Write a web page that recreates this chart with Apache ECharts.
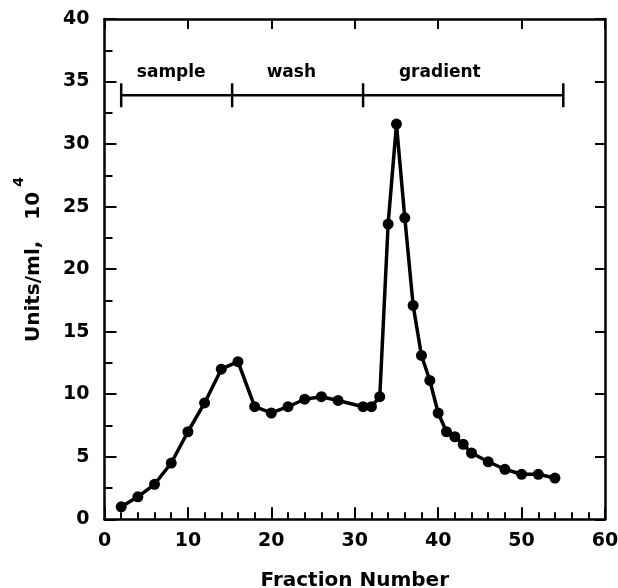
<!DOCTYPE html>
<html>
<head>
<meta charset="utf-8">
<script src="https://cdn.jsdelivr.net/npm/echarts@6/dist/echarts.min.js"></script>
<style>html,body{margin:0;padding:0;background:#fff}#c{width:618px;height:588px}</style>
</head>
<body>
<div id="c"></div>
<script>
// Data
var fractions = [2,4,6,8,10,12,14,16,18,20,22,24,26,28,31,32,33,34,35,36,37,38,39,40,41,42,43,44,46,48,50,52,54];
var units = [1.0,1.8,2.8,4.5,7.0,9.3,12.0,12.6,9.0,8.5,9.0,9.6,9.8,9.5,9.0,9.0,9.8,23.6,31.6,24.1,17.1,13.1,11.1,8.5,7.0,6.6,6.0,5.3,4.6,4.0,3.6,3.6,3.3];
var phaseBounds = [2, 15.3, 31, 55];
var phaseBarY = 33.9;
var phaseNames = ['sample', 'wash', 'gradient'];
var phaseLabelX = [8, 22.4, 40.2];
var phaseLabelY = 35.7;
var xTicks = [0, 60, 10];
var yTicks = [0, 40, 5];

var FONT = 'DejaVu Sans';
var chart = echarts.init(document.getElementById('c'), null, {renderer: 'canvas'});

var lineData = fractions.map(function (f, i) { return [f, units[i]]; });
var barLine = [[phaseBounds[0], phaseBarY], [phaseBounds[phaseBounds.length - 1], phaseBarY]];
var barTicks = phaseBounds.map(function (b) { return [b, phaseBarY]; });
var labelData = phaseNames.map(function (n, i) { return {value: [phaseLabelX[i], phaseLabelY], name: n}; });

var axisLine = {show: true, onZero: false, lineStyle: {color: '#000', width: 2.5}};
chart.setOption({
  animation: false,
  backgroundColor: '#fff',
  grid: {left: 104.5, right: 13, top: 19, bottom: 68.7, containLabel: false, outerBoundsMode: 'none'},
  xAxis: [{
    type: 'value', min: xTicks[0], max: xTicks[1], interval: xTicks[2], position: 'bottom',
    axisLine: axisLine,
    axisTick: {show: true, inside: true, length: 12, lineStyle: {color: '#000', width: 2}},
    minorTick: {show: true, splitNumber: 5, length: 7, lineStyle: {color: '#000', width: 2}},
    splitLine: {show: false},
    axisLabel: {color: '#000', fontFamily: FONT, fontWeight: 'bold', fontSize: 19, margin: 12},
    name: 'Fraction Number', nameLocation: 'middle', nameGap: 51,
    nameTextStyle: {color: '#000', fontFamily: FONT, fontWeight: 'bold', fontSize: 20}
  }, {
    type: 'value', min: xTicks[0], max: xTicks[1], interval: xTicks[2], position: 'top',
    axisLine: axisLine,
    axisTick: {show: true, inside: true, length: 10, lineStyle: {color: '#000', width: 2}},
    axisLabel: {show: false}, splitLine: {show: false}
  }],
  yAxis: [{
    type: 'value', min: yTicks[0], max: yTicks[1], interval: yTicks[2], position: 'left',
    axisLine: axisLine,
    axisTick: {show: true, inside: true, length: 12, lineStyle: {color: '#000', width: 2}},
    minorTick: {show: true, splitNumber: 2, length: 8, lineStyle: {color: '#000', width: 2}},
    splitLine: {show: false},
    axisLabel: {color: '#000', fontFamily: FONT, fontWeight: 'bold', fontSize: 19, margin: 15}
  }, {
    type: 'value', min: yTicks[0], max: yTicks[1], interval: yTicks[2], position: 'right',
    axisLine: axisLine,
    axisTick: {show: true, inside: true, length: 10, lineStyle: {color: '#000', width: 2}},
    axisLabel: {show: false}, splitLine: {show: false}
  }],
  graphic: [{
    type: 'text', x: 33.5, y: 267, rotation: Math.PI / 2,
    style: {text: 'Units/ml,   10', fill: '#000', font: 'bold 20px "DejaVu Sans"', align: 'center', verticalAlign: 'middle'}
  }, {
    type: 'text', x: 19, y: 182, rotation: Math.PI / 2,
    style: {text: '4', fill: '#000', font: 'bold 14px "DejaVu Sans"', align: 'center', verticalAlign: 'middle'}
  }],
  series: [{
    type: 'line', data: lineData, xAxisIndex: 0, yAxisIndex: 0,
    symbol: 'circle', symbolSize: 11, showSymbol: true, z: 5,
    lineStyle: {color: '#000', width: 3.5}, itemStyle: {color: '#000'}
  }, {
    type: 'line', data: barLine, symbol: 'none',
    lineStyle: {color: '#000', width: 2.5}
  }, {
    type: 'scatter', data: barTicks, symbol: 'rect', symbolSize: [2.5, 24],
    itemStyle: {color: '#000', opacity: 1}
  }, {
    type: 'scatter', data: labelData, symbolSize: 0,
    itemStyle: {color: '#000', opacity: 1},
    label: {show: true, position: 'inside', formatter: '{b}', color: '#000', textBorderWidth: 0,
      fontFamily: FONT, fontWeight: 'bold', fontSize: 17}
  }]
});
</script>
</body>
</html>
